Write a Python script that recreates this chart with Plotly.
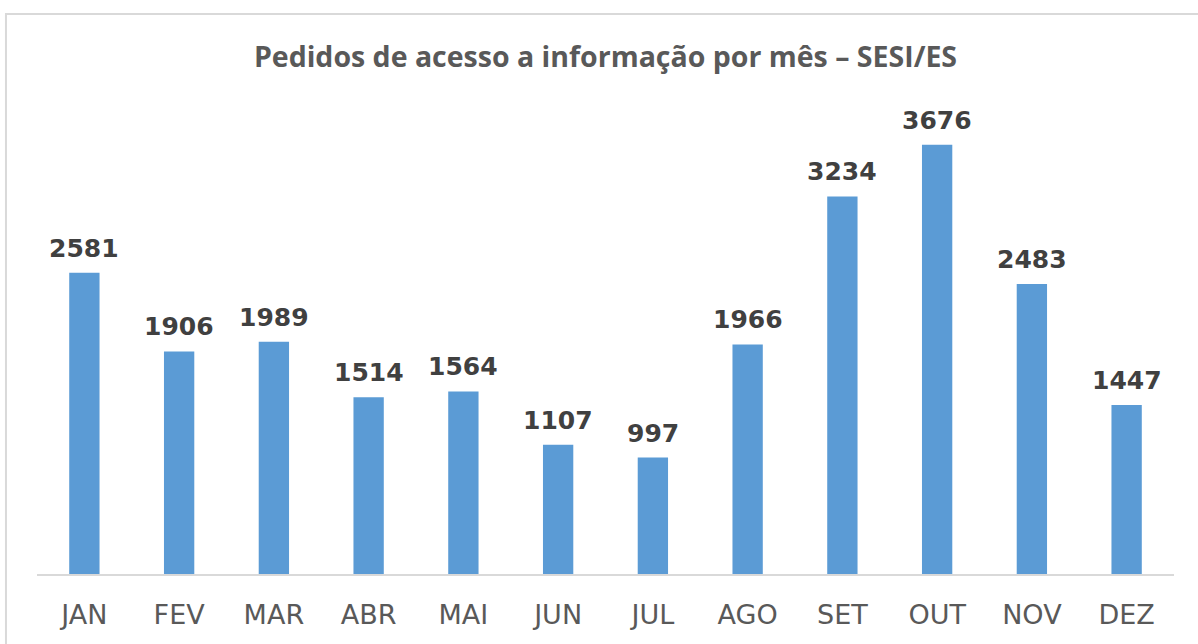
import plotly.graph_objects as go

months = ["JAN", "FEV", "MAR", "ABR", "MAI", "JUN", "JUL", "AGO", "SET", "OUT", "NOV", "DEZ"]
pedidos = [2581, 1906, 1989, 1514, 1564, 1107, 997, 1966, 3234, 3676, 2483, 1447]
title_text = "Pedidos de acesso a informação por mês – SESI/ES"

fig = go.Figure()
fig.add_trace(go.Bar(
    x=months, y=pedidos,
    marker=dict(color="#5b9bd5", line=dict(width=0)),
    hoverinfo="x+y",
))

for m, v in zip(months, pedidos):
    fig.add_annotation(
        x=m, y=v, text=f"<b>{v}</b>", showarrow=False,
        yanchor="bottom", yshift=8,
        font=dict(family="DejaVu Sans, Open Sans, sans-serif", size=25, color="#404040"),
    )

fig.add_shape(
    type="rect", xref="paper", yref="paper",
    x0=-0.0273, x1=1.05, y0=-0.3, y1=1.199,
    line=dict(color="#d9d9d9", width=2), fillcolor="rgba(0,0,0,0)", layer="below",
)

fig.update_layout(
    width=1198, height=644,
    margin=dict(l=37, r=24, t=107, b=70),
    paper_bgcolor="white", plot_bgcolor="white",
    bargap=0.68,
    showlegend=False,
    title=dict(
        text=f"<b>{title_text}</b>",
        x=0.5, xref="paper", xanchor="center",
        y=1 - 57 / 644, yref="container", yanchor="middle",
        font=dict(family="Open Sans, Liberation Sans, sans-serif", size=28.5, color="#595959"),
    ),
    xaxis=dict(
        showline=True, linecolor="#d9d9d9", linewidth=2,
        showgrid=False, ticks="", ticklabelstandoff=16,
        tickfont=dict(family="DejaVu Sans, Open Sans, sans-serif", size=27, color="#595959"),
    ),
    yaxis=dict(range=[0, 4000], visible=False, showgrid=False),
)

fig.write_html("out.html", config={"displayModeBar": False},
               post_script="document.body.style.margin='0';")
